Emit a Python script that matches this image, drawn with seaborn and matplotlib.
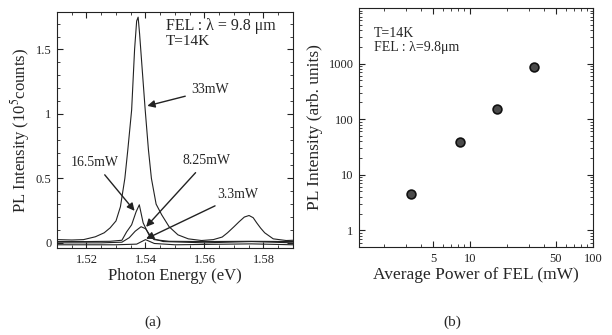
import numpy as np
import pandas as pd
import matplotlib
matplotlib.use("Agg")
import matplotlib.pyplot as plt
import seaborn as sns
from matplotlib.ticker import MultipleLocator, LogLocator, FixedLocator, NullFormatter

# ---- data ----
E33 = [1.510, 1.515, 1.519, 1.523, 1.526, 1.528, 1.530, 1.5315, 1.533, 1.534, 1.5353, 1.5363,
       1.537, 1.5375, 1.538, 1.5389, 1.5399, 1.541, 1.542, 1.5436, 1.5455, 1.548, 1.551, 1.5545,
       1.559, 1.563, 1.566, 1.5678, 1.570, 1.5717, 1.5735, 1.5751, 1.5765, 1.5777, 1.579, 1.5804,
       1.5833, 1.5877, 1.590]
I33 = [0.025, 0.022, 0.025, 0.047, 0.078, 0.116, 0.17, 0.28, 0.5, 0.72, 1.03, 1.5,
       1.72, 1.75, 1.62, 1.34, 1.03, 0.72, 0.5, 0.3, 0.217, 0.125, 0.062, 0.031,
       0.018, 0.025, 0.045, 0.078, 0.125, 0.163, 0.2, 0.212, 0.195, 0.155, 0.115, 0.078,
       0.031, 0.018, 0.02]

E16 = [1.510, 1.520, 1.528, 1.532, 1.5336, 1.5353, 1.5368, 1.5379, 1.5392, 1.5412, 1.5429,
       1.548, 1.560, 1.575, 1.590]
I16 = [0.01, 0.01, 0.012, 0.02, 0.085, 0.14, 0.24, 0.295, 0.155, 0.06, 0.025,
       0.012, 0.01, 0.012, 0.01]

E8 = [1.510, 1.525, 1.532, 1.5345, 1.5365, 1.5385, 1.540, 1.5415, 1.543, 1.546, 1.560, 1.576, 1.590]
I8 = [0.0, 0.0, 0.005, 0.04, 0.09, 0.125, 0.11, 0.06, 0.03, 0.01, 0.0, 0.01, 0.0]

E3 = [1.510, 1.530, 1.537, 1.540, 1.543, 1.550, 1.576, 1.590]
I3 = [-0.015, -0.015, -0.01, 0.025, -0.005, -0.015, -0.008, -0.015]

power_mW = [3.3, 8.25, 16.5, 33]
pl_intensity = [4.5, 38, 150, 870]

curve_labels = ["33mW", "16.5mW", "8.25mW", "3.3mW"]

# ---- style ----
sns.set_theme(style="ticks")
plt.rcParams["font.family"] = ["Liberation Serif", "DejaVu Serif"]
plt.rcParams["mathtext.fontset"] = "stix"
plt.rcParams["axes.linewidth"] = 0.8

fig = plt.figure(figsize=(6.12, 3.35), dpi=100)
W, H = 612, 335

def px_axes(x0, y0, x1, y1):
    return fig.add_axes([x0 / W, 1 - y1 / H, (x1 - x0) / W, (y1 - y0) / H])

ax1 = px_axes(57, 12, 293, 248)
ax2 = px_axes(359, 8, 593, 247)

# ---- left panel ----
frames = []
for lab, e, i in zip(curve_labels, [E33, E16, E8, E3], [I33, I16, I8, I3]):
    frames.append(pd.DataFrame({"E": e, "I": i, "P": lab}))
df = pd.concat(frames, ignore_index=True)
sns.lineplot(data=df, x="E", y="I", units="P", estimator=None, sort=False,
             color="#222222", lw=0.8, ax=ax1, legend=False)
ax1.set_xlim(1.51, 1.59)
ax1.set_ylim(-0.04, 1.79)
ax1.xaxis.set_major_locator(FixedLocator([1.52, 1.54, 1.56, 1.58]))
ax1.xaxis.set_minor_locator(MultipleLocator(0.005))
ax1.yaxis.set_major_locator(FixedLocator([0, 0.5, 1.0, 1.5]))
ax1.yaxis.set_minor_locator(MultipleLocator(0.1))
ax1.set_xticklabels(["1.52", "1.54", "1.56", "1.58"])
ax1.set_yticklabels(["0", "0.5", "1", "1.5"])
ax1.set_xlabel("Photon Energy (eV)", fontsize=12, labelpad=2)
ax1.set_ylabel("PL Intensity (10$^5$counts)", fontsize=12, labelpad=3)

ax1.text(1.5469, 1.68, "FEL : λ = 9.8 μm", fontsize=11.5, va="center", ha="left")
ax1.text(1.5469, 1.565, "T=14K", fontsize=11, va="center", ha="left")

arrow = dict(arrowstyle="-|>", lw=1.0, color="#222222", mutation_scale=11,
             shrinkA=2, shrinkB=0)
ax1.annotate("33mW", xy=(1.5406, 1.062), xytext=(1.5555, 1.186), fontsize=10,
             va="center", ha="left", arrowprops=arrow)
ax1.annotate("16.5mW", xy=(1.5363, 0.248), xytext=(1.5147, 0.62), fontsize=10,
             va="center", ha="left", arrowprops=arrow)
ax1.annotate("8.25mW", xy=(1.5402, 0.124), xytext=(1.5525, 0.636), fontsize=10,
             va="center", ha="left", arrowprops=arrow)
ax1.annotate("3.3mW", xy=(1.5402, 0.031), xytext=(1.5644, 0.372), fontsize=10,
             va="center", ha="left", arrowprops=arrow)

# ---- right panel ----
df2 = pd.DataFrame({"P": power_mW, "I": pl_intensity})
sns.scatterplot(data=df2, x="P", y="I", ax=ax2, s=40, color="#4a4a4a",
                edgecolor="#111111", linewidth=1.2, zorder=3)
ax2.set_xscale("log")
ax2.set_yscale("log")
ax2.set_xlim(1.25, 100)
ax2.set_ylim(0.5, 1e4)
ax2.xaxis.set_major_locator(FixedLocator([5, 10, 50, 100]))
ax2.set_xticklabels(["5", "10", "50", "100"])
ax2.xaxis.set_minor_locator(LogLocator(base=10, subs=np.arange(1, 10)))
ax2.xaxis.set_minor_formatter(NullFormatter())
ax2.yaxis.set_major_locator(FixedLocator([1, 10, 100, 1000]))
ax2.set_yticklabels(["1", "10", "100", "1000"])
ax2.yaxis.set_minor_locator(LogLocator(base=10, subs=np.arange(2, 10)))
ax2.yaxis.set_minor_formatter(NullFormatter())
ax2.set_xlabel("Average Power of FEL (mW)", fontsize=12.5, labelpad=2)
ax2.set_ylabel("PL Intensity (arb. units)", fontsize=12.5, labelpad=4)
ax2.text(0.065, 0.895, "T=14K", transform=ax2.transAxes, fontsize=10, va="center")
ax2.text(0.065, 0.835, "FEL : λ=9.8μm", transform=ax2.transAxes, fontsize=10, va="center")

for ax in (ax1, ax2):
    ax.tick_params(which="both", direction="in", top=True, right=True, colors="#222222",
                   labelcolor="#222222")
    ax.tick_params(which="major", length=4, width=0.8, labelsize=9, pad=4)
    ax.tick_params(which="minor", length=2, width=0.6)
    for s in ax.spines.values():
        s.set_color("#222222")
        s.set_visible(True)

fig.text(153 / W, 1 - 322 / H, "(a)", fontsize=11, ha="center", va="center")
fig.text(452 / W, 1 - 322 / H, "(b)", fontsize=11, ha="center", va="center")

fig.savefig("out.png", dpi=100)
